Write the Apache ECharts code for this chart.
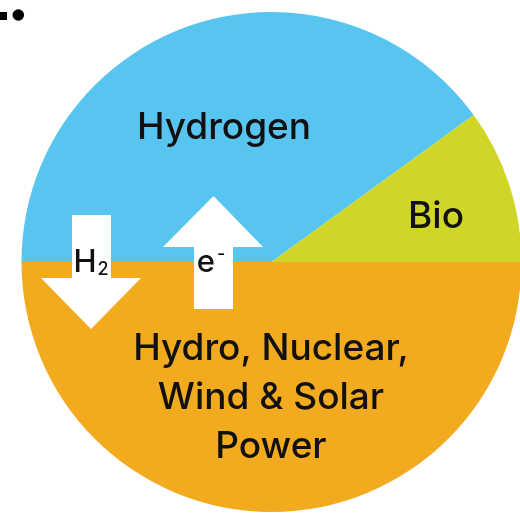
<!DOCTYPE html>
<html>
<head>
<meta charset="utf-8">
<script src="https://cdn.jsdelivr.net/npm/echarts@6/dist/echarts.min.js"></script>
<style>
html,body{margin:0;padding:0;background:#fff;}
#chart{width:520px;height:519px;}
</style>
</head>
<body>
<div id="chart"></div>
<script>
// Data
var categories = ['Hydrogen', 'Bio', 'Hydro, Nuclear,\nWind & Solar\nPower'];
var shares = [40, 10, 50];
var sliceColors = ['#58C5F1', '#D0D627', '#F2AA1F'];
var flowLabels = ['H2', 'e-'];

var chart = echarts.init(document.getElementById('chart'), null, {renderer: 'canvas'});
var FONT = 'Inter, Roboto, sans-serif';

var pieData = categories.map(function (c, i) {
  return {name: c, value: shares[i], itemStyle: {color: sliceColors[i]}};
});

var labelPos = [
  {x: 224, y: 128},
  {x: 436, y: 217},
  {x: 271, y: 349}
];

var graphics = [];
categories.forEach(function (c, i) {
  graphics.push({
    type: 'text', x: labelPos[i].x, y: labelPos[i].y, z: 10,
    style: {
      text: c, fill: '#111', font: '500 37px ' + FONT,
      align: 'center', verticalAlign: i === 2 ? 'top' : 'middle',
      lineHeight: 49
    }
  });
});
graphics[2].y = labelPos[2].y - 24.5;

// arrows
graphics.push({
  type: 'polygon', z: 5,
  shape: {points: [[72, 215], [111, 215], [111, 278], [141, 278], [91, 329], [41, 278], [72, 278]]},
  style: {fill: '#fff'}
});
graphics.push({
  type: 'polygon', z: 5,
  shape: {points: [[194, 309], [233, 309], [233, 247], [263, 247], [213.5, 196], [163, 247], [194, 247]]},
  style: {fill: '#fff'}
});
graphics.push({
  type: 'text', x: 91, y: 263, z: 10,
  style: {
    text: '{m|' + flowLabels[0].charAt(0) + '}{s|' + flowLabels[0].charAt(1) + '}', align: 'center', verticalAlign: 'middle',
    rich: {
      m: {font: '500 31px ' + FONT, fill: '#111'},
      s: {font: '500 18px ' + FONT, fill: '#111', padding: [14, 0, 0, 1]}
    }
  }
});
graphics.push({
  type: 'text', x: 211, y: 263, z: 10,
  style: {
    text: '{m|' + flowLabels[1].charAt(0) + '}{s|' + flowLabels[1].charAt(1) + '}', align: 'center', verticalAlign: 'middle',
    rich: {
      m: {font: '500 31px ' + FONT, fill: '#111'},
      s: {font: '500 18px ' + FONT, fill: '#111', padding: [0, 0, 16, 2]}
    }
  }
});
// top-left marks
graphics.push({type: 'rect', shape: {x: 0, y: 12, width: 7, height: 8}, style: {fill: '#000'}});
graphics.push({type: 'circle', shape: {cx: 18.3, cy: 15, r: 5.8}, style: {fill: '#000'}});

chart.setOption({
  animation: false,
  series: [{
    type: 'pie',
    center: [271.5, 262],
    radius: [0, 250],
    startAngle: 180,
    clockwise: true,
    silent: true,
    label: {show: false},
    labelLine: {show: false},
    emphasis: {disabled: true},
    itemStyle: {borderWidth: 0},
    data: pieData
  }],
  graphic: graphics
});
</script>
</body>
</html>
